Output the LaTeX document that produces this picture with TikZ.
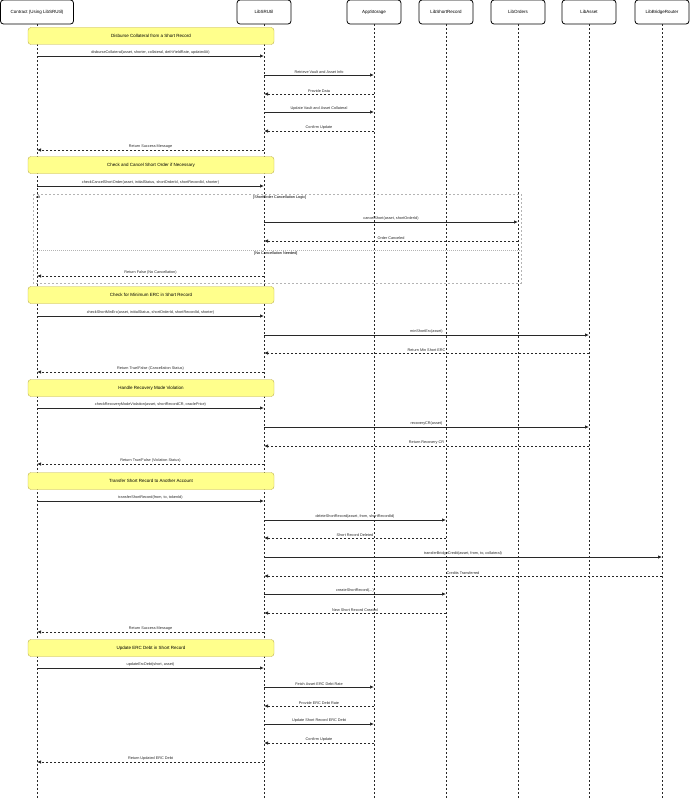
\documentclass[tikz,border=0pt]{standalone}
\usepackage{fontspec}
\setmainfont{Liberation Sans}
\usetikzlibrary{arrows.meta,positioning}
\definecolor{notefill}{RGB}{255,255,140}
\definecolor{notedraw}{RGB}{190,175,80}
\definecolor{linegray}{RGB}{40,40,40}
\definecolor{framegray}{RGB}{180,180,180}
\tikzset{
    % participant heads and lifelines
    headbox/.style={
        rectangle, draw=black, thick, fill=white, rounded corners=3pt,
        minimum height=24pt, font=\fontsize{4.5}{5}\selectfont, inner sep=1pt
    },
    lifeline/.style={
        draw=linegray, line width=0.8pt, dash pattern=on 2pt off 2pt
    },
    notebox/.style={
        rectangle, draw=notedraw, fill=notefill, rounded corners=3pt,
        minimum height=17pt, minimum width=246pt,
        font=\fontsize{4.5}{5}\selectfont
    },
    call/.style={
        -{Latex[length=4pt,width=3.5pt]}, line width=0.8pt, color=linegray
    },
    reply/.style={
        -{Latex[length=4pt,width=3.5pt]}, line width=0.8pt, color=linegray,
        dash pattern=on 2pt off 2pt
    },
    msglabel/.style={
        above, inner sep=1pt, font=\fontsize{3.8}{4}\selectfont, text=linegray
    }
}
\begin{document}
\begin{tikzpicture}[x=1pt, y=-1pt]
\useasboundingbox (0,0) rectangle (690,800);

% participants
\node[headbox, minimum width=73pt] (c) at (37,12) {Contract (Using LibSRUtil)};
\node[headbox, minimum width=54pt] (u) at (264,12) {LibSRUtil};
\node[headbox, minimum width=54pt] (s) at (374,12) {AppStorage};
\node[headbox, minimum width=54pt] (r) at (446,12) {LibShortRecord};
\node[headbox, minimum width=54pt] (o) at (518,12) {LibOrders};
\node[headbox, minimum width=54pt] (a) at (589,12) {LibAsset};
\node[headbox, minimum width=54pt] (b) at (662,12) {LibBridgeRouter};
\foreach \p in {c,u,s,r,o,a,b}
    \draw[lifeline] (\p.south) -- (\p |- 0,800);

% alt frame
\draw[framegray, line width=0.6pt, dash pattern=on 2pt off 2pt] (33,194) rectangle (521,283);
\draw[framegray, line width=0.4pt, dash pattern=on 1pt off 1pt] (33,250) -- (521,250);
\node[anchor=north west, inner sep=1pt, font=\fontsize{3.8}{4}\selectfont] (altlbl) at (35,195) {alt};
\node[anchor=west, inner sep=1pt, font=\fontsize{3.8}{4}\selectfont] (guard1) at (252,198) {[ShortOrder Cancellation Logic]};
\node[anchor=west, inner sep=1pt, font=\fontsize{3.8}{4}\selectfont] (guard2) at (253,254) {[No Cancellation Needed]};

% disburse
\node[notebox] (n1) at (151,36) {Disburse Collateral from a Short Record};
\draw[call] (c |- 0,56) -- node[msglabel] {disburseCollateral(asset, shorter, collateral, dethYieldRate, updatedAt)} (u |- 0,56);
\draw[call] (u |- 0,75) -- node[msglabel] {Retrieve Vault and Asset Info} (s |- 0,75);
\draw[reply] (s |- 0,94) -- node[msglabel] {Provide Data} (u |- 0,94);
\draw[call] (u |- 0,112) -- node[msglabel] {Update Vault and Asset Collateral} (s |- 0,112);
\draw[reply] (s |- 0,131) -- node[msglabel] {Confirm Update} (u |- 0,131);
\draw[reply] (u |- 0,150) -- node[msglabel] {Return Success Message} (c |- 0,150);

% cancel short order
\node[notebox] (n2) at (151,165) {Check and Cancel Short Order if Necessary};
\draw[call] (c |- 0,186) -- node[msglabel] {checkCancelShortOrder(asset, initialStatus, shortOrderId, shortRecordId, shorter)} (u |- 0,186);
\draw[call] (u |- 0,222) -- node[msglabel] {cancelShort(asset, shortOrderId)} (o |- 0,222);
\draw[reply] (o |- 0,241) -- node[msglabel] {Order Canceled} (u |- 0,241);
\draw[reply] (u |- 0,276) -- node[msglabel] {Return False (No Cancellation)} (c |- 0,276);

% minimum erc
\node[notebox] (n3) at (151,295) {Check for Minimum ERC in Short Record};
\draw[call] (c |- 0,316) -- node[msglabel] {checkShortMinErc(asset, initialStatus, shortOrderId, shortRecordId, shorter)} (u |- 0,316);
\draw[call] (u |- 0,335) -- node[msglabel] {minShortErc(asset)} (a |- 0,335);
\draw[reply] (a |- 0,353) -- node[msglabel] {Return Min Short ERC} (u |- 0,353);
\draw[reply] (u |- 0,372) -- node[msglabel] {Return True/False (Cancellation Status)} (c |- 0,372);

% recovery mode
\node[notebox] (n4) at (151,388) {Handle Recovery Mode Violation};
\draw[call] (c |- 0,408) -- node[msglabel] {checkRecoveryModeViolation(asset, shortRecordCR, oraclePrice)} (u |- 0,408);
\draw[call] (u |- 0,427) -- node[msglabel] {recoveryCR(asset)} (a |- 0,427);
\draw[reply] (a |- 0,446) -- node[msglabel] {Return Recovery CR} (u |- 0,446);
\draw[reply] (u |- 0,464) -- node[msglabel] {Return True/False (Violation Status)} (c |- 0,464);

% transfer
\node[notebox] (n5) at (151,481) {Transfer Short Record to Another Account};
\draw[call] (c |- 0,501) -- node[msglabel] {transferShortRecord(from, to, tokenId)} (u |- 0,501);
\draw[call] (u |- 0,520) -- node[msglabel] {deleteShortRecord(asset, from, shortRecordId)} (r |- 0,520);
\draw[reply] (r |- 0,538) -- node[msglabel] {Short Record Deleted} (u |- 0,538);
\draw[call] (u |- 0,557) -- node[msglabel] {transferBridgeCredit(asset, from, to, collateral)} (b |- 0,557);
\draw[reply] (b |- 0,576) -- node[msglabel] {Credits Transferred} (u |- 0,576);
\draw[call] (u |- 0,594) -- node[msglabel] {createShortRecord(...)} (r |- 0,594);
\draw[reply] (r |- 0,613) -- node[msglabel] {New Short Record Created} (u |- 0,613);
\draw[reply] (u |- 0,632) -- node[msglabel] {Return Success Message} (c |- 0,632);

% erc debt
\node[notebox] (n6) at (151,648) {Update ERC Debt in Short Record};
\draw[call] (c |- 0,668) -- node[msglabel] {updateErcDebt(short, asset)} (u |- 0,668);
\draw[call] (u |- 0,687) -- node[msglabel] {Fetch Asset ERC Debt Rate} (s |- 0,687);
\draw[reply] (s |- 0,706) -- node[msglabel] {Provide ERC Debt Rate} (u |- 0,706);
\draw[call] (u |- 0,724) -- node[msglabel] {Update Short Record ERC Debt} (s |- 0,724);
\draw[reply] (s |- 0,743) -- node[msglabel] {Confirm Update} (u |- 0,743);
\draw[reply] (u |- 0,762) -- node[msglabel] {Return Updated ERC Debt} (c |- 0,762);

\end{tikzpicture}
\end{document}
